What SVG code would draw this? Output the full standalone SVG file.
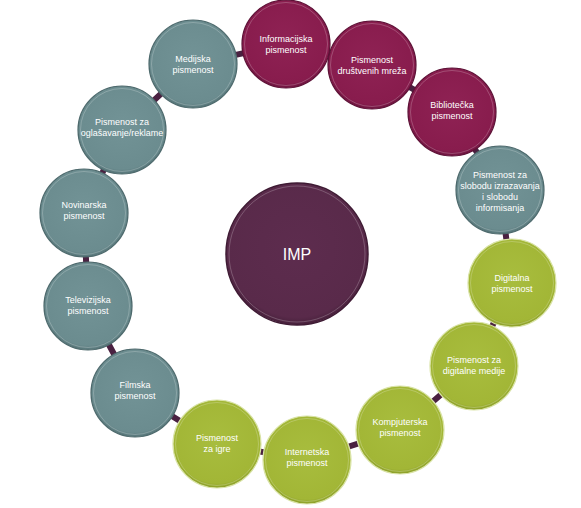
<svg xmlns="http://www.w3.org/2000/svg" width="581" height="508" viewBox="0 0 581 508">
<defs>
<radialGradient id="gM" cx="50%" cy="45%" r="55%"><stop offset="0" stop-color="#8f2254"/><stop offset="0.9" stop-color="#881c4d"/><stop offset="1" stop-color="#6e1440"/></radialGradient>
<radialGradient id="gT" cx="50%" cy="45%" r="55%"><stop offset="0" stop-color="#729396"/><stop offset="0.9" stop-color="#6b8c8f"/><stop offset="1" stop-color="#557477"/></radialGradient>
<radialGradient id="gG" cx="50%" cy="45%" r="55%"><stop offset="0" stop-color="#a8bd3e"/><stop offset="0.9" stop-color="#a2b636"/><stop offset="1" stop-color="#8a9d28"/></radialGradient>
<radialGradient id="gC" cx="50%" cy="45%" r="55%"><stop offset="0" stop-color="#5d2c4e"/><stop offset="0.9" stop-color="#592a4a"/><stop offset="1" stop-color="#47203b"/></radialGradient>
</defs>
<style>
.m{fill:url(#gM);stroke:#5e1237;stroke-width:1.2}
.t{fill:url(#gT);stroke:#4e6a6d;stroke-width:1.2}
.g{fill:url(#gG);stroke:#d9e3a6;stroke-width:1.2}
.c{fill:url(#gC);stroke:#3f1b34;stroke-width:1.5}
.hl{fill:none;stroke:#ffffff;stroke-opacity:0.22;stroke-width:1}
.lb{font-family:"Liberation Sans",Arial,sans-serif;font-size:9px;fill:#ffffff;text-anchor:middle}
.big{font-family:"Liberation Sans",Arial,sans-serif;font-size:16px;fill:#ffffff;text-anchor:middle}
.con{fill:none;stroke:#4a2141;stroke-width:6}
</style>
<rect width="581" height="508" fill="#ffffff"/>
<g id="connectors">
<polygon class="con" points="286,44 372,65 452,112 500,190 512,283 474,366 400,430 307,460 217,444 135,393 88,306 84,213 122,130 193,64"/>
</g>
<g id="center">
<circle class="c" cx="297" cy="254" r="71"/>
<circle class="hl" cx="297" cy="254" r="68"/>
<text class="big" x="297" y="260">IMP</text>
</g>
<g id="n1"><circle class="m" cx="286" cy="44" r="44"/><circle class="hl" cx="286" cy="44" r="41.5"/><text class="lb" x="286" y="42">Informacijska</text><text class="lb" x="286" y="53">pismenost</text></g>
<g id="n2"><circle class="m" cx="372" cy="65" r="44"/><circle class="hl" cx="372" cy="65" r="41.5"/><text class="lb" x="372" y="63">Pismenost</text><text class="lb" x="372" y="74">društvenih mreža</text></g>
<g id="n3"><circle class="m" cx="452" cy="112" r="44"/><circle class="hl" cx="452" cy="112" r="41.5"/><text class="lb" x="452" y="108">Bibliotečka</text><text class="lb" x="452" y="119">pismenost</text></g>
<g id="n4"><circle class="t" cx="500" cy="190" r="44"/><circle class="hl" cx="500" cy="190" r="41.5"/><text class="lb" x="500" y="178">Pismenost za</text><text class="lb" x="500" y="189">slobodu izrazavanja</text><text class="lb" x="500" y="200">i slobodu</text><text class="lb" x="500" y="211">informisanja</text></g>
<g id="n5"><circle class="g" cx="512" cy="283" r="44"/><circle class="hl" cx="512" cy="283" r="41.5"/><text class="lb" x="512" y="281">Digitalna</text><text class="lb" x="512" y="292">pismenost</text></g>
<g id="n6"><circle class="g" cx="474" cy="366" r="44"/><circle class="hl" cx="474" cy="366" r="41.5"/><text class="lb" x="474" y="363">Pismenost za</text><text class="lb" x="474" y="374">digitalne medije</text></g>
<g id="n7"><circle class="g" cx="400" cy="430" r="44"/><circle class="hl" cx="400" cy="430" r="41.5"/><text class="lb" x="400" y="425">Kompjuterska</text><text class="lb" x="400" y="436">pismenost</text></g>
<g id="n8"><circle class="g" cx="307" cy="460" r="44"/><circle class="hl" cx="307" cy="460" r="41.5"/><text class="lb" x="307" y="455">Internetska</text><text class="lb" x="307" y="466">pismenost</text></g>
<g id="n9"><circle class="g" cx="217" cy="444" r="44"/><circle class="hl" cx="217" cy="444" r="41.5"/><text class="lb" x="217" y="441">Pismenost</text><text class="lb" x="217" y="452">za igre</text></g>
<g id="n10"><circle class="t" cx="135" cy="393" r="44"/><circle class="hl" cx="135" cy="393" r="41.5"/><text class="lb" x="135" y="388">Filmska</text><text class="lb" x="135" y="399">pismenost</text></g>
<g id="n11"><circle class="t" cx="88" cy="306" r="44"/><circle class="hl" cx="88" cy="306" r="41.5"/><text class="lb" x="88" y="303">Televizijska</text><text class="lb" x="88" y="314">pismenost</text></g>
<g id="n12"><circle class="t" cx="84" cy="213" r="44"/><circle class="hl" cx="84" cy="213" r="41.5"/><text class="lb" x="84" y="208">Novinarska</text><text class="lb" x="84" y="219">pismenost</text></g>
<g id="n13"><circle class="t" cx="122" cy="130" r="44"/><circle class="hl" cx="122" cy="130" r="41.5"/><text class="lb" x="122" y="125">Pismenost za</text><text class="lb" x="122" y="136">oglašavanje/reklame</text></g>
<g id="n14"><circle class="t" cx="193" cy="64" r="44"/><circle class="hl" cx="193" cy="64" r="41.5"/><text class="lb" x="193" y="62">Medijska</text><text class="lb" x="193" y="73">pismenost</text></g>
</svg>
